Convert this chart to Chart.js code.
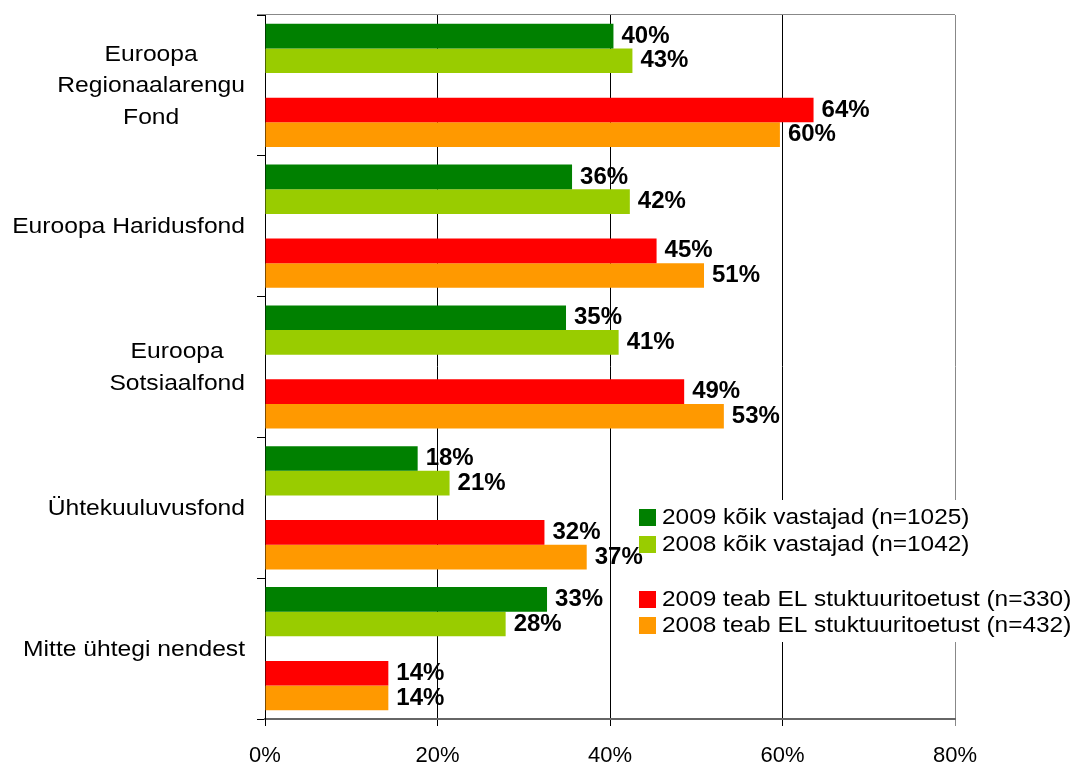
<!DOCTYPE html>
<html lang="et">
<head>
<meta charset="UTF-8">
<script src="https://cdn.jsdelivr.net/npm/chart.js"></script>
<title>EL struktuuritoetuse fondid</title>
<style>
  html, body { margin: 0; padding: 0; background: #fff; }
</style>
</head>
<body>
<canvas id="myChart" width="1080" height="765"></canvas>
<script>
const categories = [["Euroopa", "Regionaalarengu", "Fond"], "Euroopa Haridusfond", ["Euroopa", "Sotsiaalfond"], "Ühtekuuluvusfond", "Mitte ühtegi nendest"];
const seriesNames = ["2009 kõik vastajad (n=1025)", "2008 kõik vastajad (n=1042)", "2009 teab EL stuktuuritoetust (n=330)", "2008 teab EL stuktuuritoetust (n=432)"];
// values, labels show them rounded
const all2009 = [40.4, 35.6, 34.9, 17.7, 32.7];
const all2008 = [42.6, 42.3, 41.0, 21.4, 27.9];
const eu2009 = [63.6, 45.4, 48.6, 32.4, 14.3];
const eu2008 = [59.7, 50.9, 53.2, 37.3, 14.3];
const xTicks = [0, 20, 40, 60, 80];
const colors = ['#008000', '#99CC00', '#FF0000', '#FF9900'];

const FONT = '"Liberation Sans", Arial, sans-serif';

function wideText(ctx, text, x, y, align, sx) {
  const w = ctx.measureText(text).width * sx;
  const left = align === 'left' ? x : align === 'right' ? x - w : x - w / 2;
  ctx.save();
  ctx.translate(left, y);
  ctx.scale(sx, 1);
  ctx.textAlign = 'left';
  ctx.fillText(text, 0, 0);
  ctx.restore();
}

// spacer dataset keeps the gap between the two pairs of bars
const seriesData = [all2009, all2008, null, eu2009, eu2008];
let ci = 0;
const datasets = seriesData.map(d => {
  if (!d) return { label: '', data: categories.map(() => null), spacer: true };
  const c = colors[ci];
  const name = seriesNames[ci];
  ci++;
  return { label: name, data: d, backgroundColor: c, borderWidth: 0 };
});

const extras = {
  id: 'extras',
  afterDatasetsDraw(chart) {
    const ctx = chart.ctx;
    const a = chart.chartArea;
    ctx.save();
    // top frame line
    ctx.strokeStyle = '#888';
    ctx.lineWidth = 1;
    ctx.beginPath();
    ctx.moveTo(a.left - 8, a.top - 0.5);
    ctx.lineTo(a.right, a.top - 0.5);
    ctx.stroke();
    // legend background
    ctx.fillStyle = '#fff';
    ctx.fillRect(636, 500, 442, 142);
    ctx.restore();
  },
  afterDraw(chart) {
    const ctx = chart.ctx;
    const yScale = chart.scales.y;
    ctx.save();
    ctx.fillStyle = '#000';
    ctx.textBaseline = 'middle';

    // category labels
    ctx.font = '22px ' + FONT;
    categories.forEach((lab, i) => {
      const lines = Array.isArray(lab) ? lab : [lab];
      const cy = yScale.getPixelForTick(i) + 1;
      const maxW = Math.max(...lines.map(l => ctx.measureText(l).width)) * 1.12;
      const cx = 245 - maxW / 2;
      lines.forEach((l, k) => {
        wideText(ctx, l, cx, cy + (k - (lines.length - 1) / 2) * 31.5, 'center', 1.12);
      });
    });

    // value labels
    ctx.font = 'bold 24px ' + FONT;
    chart.data.datasets.forEach((ds, di) => {
      if (ds.spacer) return;
      chart.getDatasetMeta(di).data.forEach((bar, i) => {
        wideText(ctx, Math.round(ds.data[i]) + '%', bar.x + 8, bar.y, 'left', 1.0);
      });
    });

    // legend
    const rows = [517, 544, 599, 625];
    ctx.font = '22px ' + FONT;
    seriesNames.forEach((n, i) => {
      ctx.fillStyle = colors[i];
      ctx.fillRect(639, rows[i] - 8, 17, 17);
      ctx.fillStyle = '#000';
      wideText(ctx, n, 662, rows[i] + 1, 'left', 1.11);
    });
    ctx.restore();
  }
};

new Chart(document.getElementById('myChart'), {
  type: 'bar',
  data: { labels: categories, datasets: datasets },
  plugins: [extras],
  options: {
    responsive: false,
    animation: false,
    indexAxis: 'y',
    layout: { padding: { top: 15, right: 125, left: 0, bottom: 0 } },
    datasets: { bar: { categoryPercentage: 0.875, barPercentage: 1 } },
    plugins: { legend: { display: false }, tooltip: { enabled: false } },
    scales: {
      x: {
        min: 0,
        max: 80,
        afterBuildTicks: s => { s.ticks = xTicks.map(v => ({ value: v })); },
        afterFit: s => { s.height = 765 - 719; },
        ticks: {
          callback: v => v + '%',
          color: '#000',
          padding: 17,
          font: { size: 22, family: FONT }
        },
        grid: {
          color: c => (c.tick && c.tick.value === 80) ? '#888' : '#000',
          lineWidth: 1,
          tickLength: 7,
          drawTicks: true
        },
        border: { color: '#666', width: 2 }
      },
      y: {
        afterFit: s => { s.width = 265; },
        ticks: { display: false },
        grid: {
          drawOnChartArea: false,
          drawTicks: true,
          tickLength: 8,
          color: '#000',
          offset: true
        },
        border: { color: '#000', width: 1 }
      }
    }
  }
});
</script>
</body>
</html>
